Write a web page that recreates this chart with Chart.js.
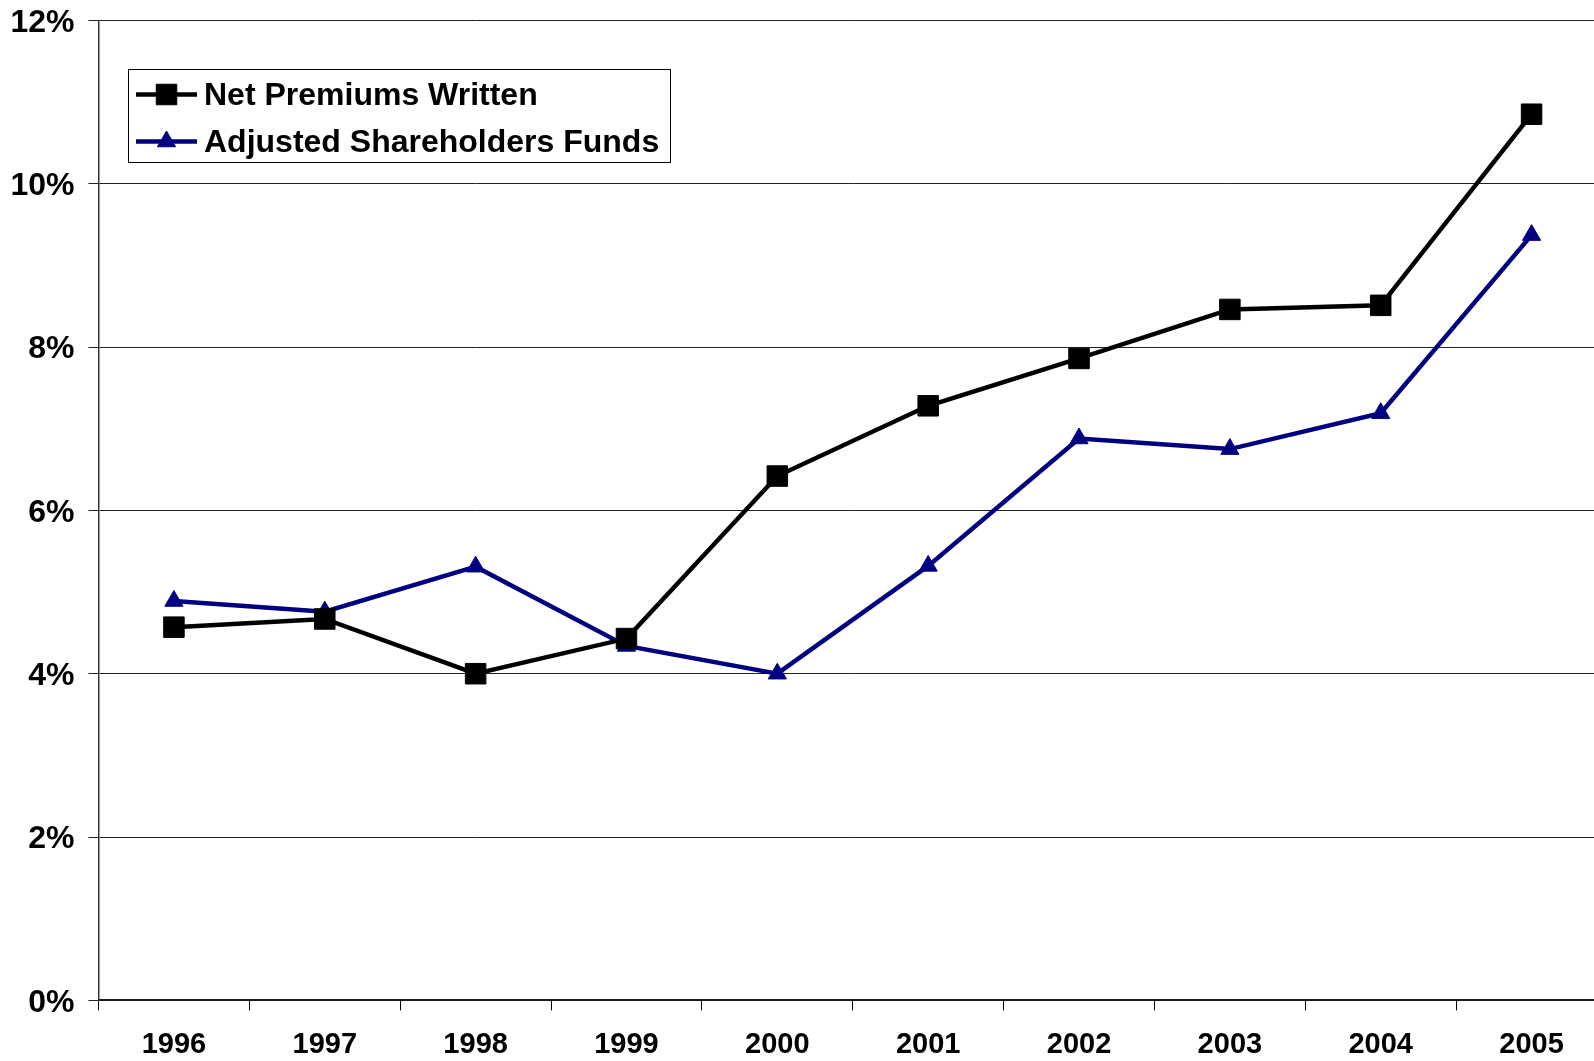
<!DOCTYPE html>
<html>
<head>
<meta charset="utf-8">
<title>Growth rates 1996-2005</title>
<script src="https://cdn.jsdelivr.net/npm/chart.js@4.4.1/dist/chart.umd.min.js"></script>
<style>
  html, body { margin: 0; padding: 0; background: #fff; overflow: hidden; }
  canvas { display: block; }
</style>
</head>
<body>
<canvas id="chart" width="1607" height="1061"></canvas>
<script>
// Years on the category axis
const years = ['1996', '1997', '1998', '1999', '2000', '2001', '2002', '2003', '2004', '2005'];

// Series values, in percent
const netPremiumsWritten = [4.57, 4.67, 4.00, 4.43, 6.42, 7.28, 7.86, 8.46, 8.51, 10.85];
const adjustedShareholdersFunds = [4.89, 4.76, 5.31, 4.34, 4.00, 5.32, 6.88, 6.75, 7.19, 9.37];

// Value axis
const yMin = 0;
const yMax = 12;
const yStep = 2;

const FONT = "'Liberation Sans', Arial, Helvetica, sans-serif";

// Boxed legend drawn inside the plot, line sample with marker in the middle
const boxLegend = {
  id: 'boxLegend',
  afterDatasetsDraw(chart) {
    const ctx = chart.ctx;
    const bx = 128.5, by = 69.5, bw = 542, bh = 93;
    ctx.save();
    ctx.fillStyle = '#ffffff';
    ctx.fillRect(bx, by, bw, bh);
    ctx.strokeStyle = '#000000';
    ctx.lineWidth = 1;
    ctx.strokeRect(bx, by, bw, bh);

    chart.data.datasets.forEach((ds, i) => {
      const cy = 94.5 + i * 47;
      ctx.strokeStyle = ds.borderColor;
      ctx.lineWidth = ds.borderWidth;
      ctx.beginPath();
      ctx.moveTo(136, cy);
      ctx.lineTo(197, cy);
      ctx.stroke();

      ctx.fillStyle = ds.pointBackgroundColor;
      ctx.strokeStyle = ds.pointBorderColor;
      ctx.lineWidth = 1;
      Chart.helpers.drawPoint(ctx, {
        pointStyle: ds.pointStyle,
        radius: ds.pointRadius,
        borderWidth: 1,
        rotation: 0
      }, 166.5, cy);

      ctx.fillStyle = '#000000';
      ctx.font = 'bold 32px ' + FONT;
      ctx.textAlign = 'left';
      ctx.textBaseline = 'middle';
      ctx.fillText(ds.label, 204, cy + 1.5);
    });
    ctx.restore();
  }
};

new Chart(document.getElementById('chart'), {
  type: 'line',
  data: {
    labels: years,
    datasets: [
      {
        label: 'Net Premiums Written',
        data: netPremiumsWritten,
        borderColor: '#000000',
        backgroundColor: '#000000',
        borderWidth: 4.5,
        pointStyle: 'rect',
        pointRadius: 14.5,
        pointBackgroundColor: '#000000',
        pointBorderColor: '#000000',
        pointBorderWidth: 1,
        tension: 0,
        fill: false
      },
      {
        label: 'Adjusted Shareholders Funds',
        data: adjustedShareholdersFunds,
        borderColor: '#000080',
        backgroundColor: '#000080',
        borderWidth: 4.5,
        pointStyle: 'triangle',
        pointRadius: 10.5,
        pointBackgroundColor: '#000080',
        pointBorderColor: '#000080',
        pointBorderWidth: 1,
        tension: 0,
        fill: false
      }
    ]
  },
  options: {
    responsive: false,
    animation: false,
    events: [],
    layout: { autoPadding: false, padding: { top: 20.3, left: 0, right: 0, bottom: 0 } },
    plugins: {
      legend: { display: false },
      tooltip: { enabled: false }
    },
    scales: {
      x: {
        type: 'category',
        offset: true,
        grid: {
          offset: true,
          drawOnChartArea: false,
          drawTicks: true,
          tickLength: 10,
          color: '#000000',
          lineWidth: 1
        },
        border: { display: true, color: '#1a1a1a', width: 2 },
        ticks: {
          color: '#000000',
          font: { family: FONT, size: 29, weight: 'bold' },
          padding: 17,
          maxRotation: 0,
          autoSkip: false
        },
        afterFit(scale) {
          scale.height = 60.6;
          scale.paddingLeft = 0;
          scale.paddingRight = 0;
        }
      },
      y: {
        min: yMin,
        max: yMax,
        grid: {
          drawOnChartArea: true,
          drawTicks: true,
          tickLength: 10,
          color: '#222222',
          lineWidth: 1
        },
        border: { display: true, color: '#333333', width: 1.5 },
        ticks: {
          stepSize: yStep,
          color: '#000000',
          font: { family: FONT, size: 32, weight: 'bold' },
          padding: 14,
          labelOffset: 2.5,
          callback: (v) => v + '%'
        },
        afterFit(scale) {
          scale.width = 98.5;
          scale.paddingTop = 0;
          scale.paddingBottom = 0;
        }
      }
    }
  },
  plugins: [boxLegend]
});
</script>
</body>
</html>
